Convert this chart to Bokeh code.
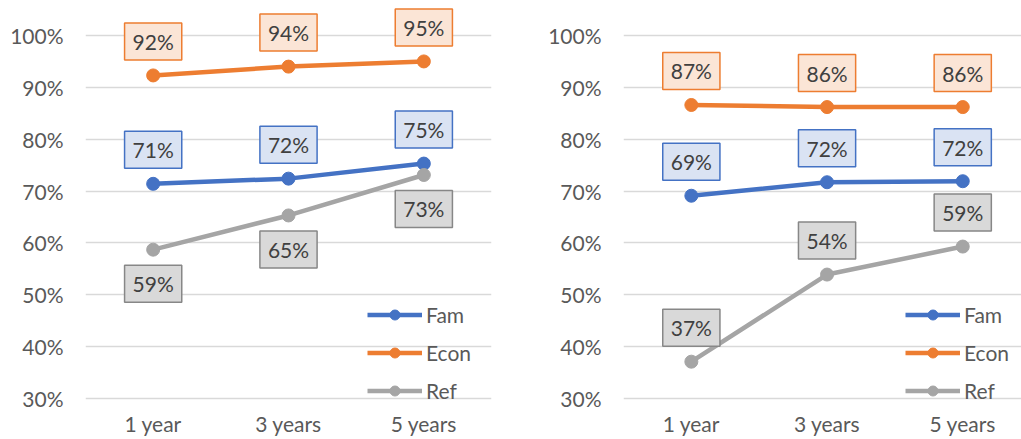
from bokeh.plotting import figure
from bokeh.layouts import row
from bokeh.models import Range1d, FixedTicker, Legend, LegendItem, ColumnDataSource
from bokeh.embed import file_html
from bokeh.resources import INLINE
from bokeh.core.properties import value

categories = ["1 year", "3 years", "5 years"]
series_names = ["Fam", "Econ", "Ref"]

left_fam = [71.4, 72.4, 75.3]
left_econ = [92.3, 94.0, 95.0]
left_ref = [58.7, 65.3, 73.1]

right_fam = [69.1, 71.7, 71.9]
right_econ = [86.6, 86.2, 86.2]
right_ref = [37.1, 53.9, 59.3]

y_ticks = [30, 40, 50, 60, 70, 80, 90, 100]

COLORS = {"Fam": "#4472C4", "Econ": "#ED7D31", "Ref": "#A5A5A5"}
FILLS = {"Fam": "#DAE3F3", "Econ": "#FBE5D6", "Ref": "#D9D9D9"}
BORDERS = {"Fam": "#4472C4", "Econ": "#ED7D31", "Ref": "#878787"}
FONT = "Lato"


def make_panel(data, label_offsets, width, border_left, border_right, x_end, legend_x):
    p = figure(width=width, height=439, output_backend="svg", toolbar_location=None,
               x_range=Range1d(-0.5, x_end), y_range=Range1d(27.686, 106.75),
               min_border_left=border_left, min_border_right=border_right,
               min_border_top=0, min_border_bottom=29)
    p.outline_line_color = None
    p.background_fill_color = "white"
    p.xgrid.grid_line_color = None
    p.ygrid.grid_line_color = "#D9D9D9"
    p.ygrid.grid_line_width = 1.5
    p.yaxis.ticker = FixedTicker(ticks=y_ticks)
    p.yaxis.major_label_overrides = {t: f"{t}%" for t in y_ticks}
    p.xaxis.ticker = FixedTicker(ticks=list(range(len(categories))))
    p.xaxis.major_label_overrides = {i: c for i, c in enumerate(categories)}
    for ax in (p.xaxis, p.yaxis):
        ax.axis_line_color = None
        ax.major_tick_line_color = None
        ax.minor_tick_line_color = None
        ax.major_tick_in = 0
        ax.major_tick_out = 0
        ax.minor_tick_in = 0
        ax.minor_tick_out = 0
        ax.major_label_text_font = FONT
        ax.major_label_text_font_size = "21px"
        ax.major_label_text_color = "#595959"
    p.yaxis.major_label_standoff = 22
    p.xaxis.major_label_standoff = 0

    items = []
    for name, vals in zip(series_names, data):
        src = ColumnDataSource(dict(x=list(range(len(categories))), y=vals,
                                    label=[f"{v:.0f}%" for v in vals]))
        ln = p.line("x", "y", source=src, line_color=COLORS[name], line_width=4.5)
        sc = p.scatter("x", "y", source=src, size=13, fill_color=COLORS[name],
                       line_color=COLORS[name])
        p.text("x", "y", text="label", source=src, text_align="center",
               text_baseline="middle", y_offset=label_offsets[name],
               text_font=value(FONT), text_font_size="21px", text_color="#404040",
               background_fill_color=FILLS[name], border_line_color=BORDERS[name],
               border_line_width=1.5,
               padding=dict(left=8, right=8, top=6, bottom=6))
        items.append(LegendItem(label=name, renderers=[ln, sc]))

    legend = Legend(items=items, location=(legend_x, 7), orientation="vertical",
                    glyph_width=55, glyph_height=25, label_height=25, spacing=13,
                    padding=0, margin=0, label_standoff=4,
                    border_line_color=None, background_fill_alpha=0,
                    label_text_font=FONT, label_text_font_size="21px",
                    label_text_color="#595959")
    p.add_layout(legend)
    return p


left = make_panel([left_fam, left_econ, left_ref],
                  {"Fam": -34, "Econ": -34, "Ref": 34},
                  width=510, border_left=85, border_right=19, x_end=2.5, legend_x=282)
right = make_panel([right_fam, right_econ, right_ref],
                   {"Fam": -34, "Econ": -34, "Ref": -34},
                   width=511, border_left=113, border_right=0, x_end=2.433, legend_x=282)

layout = row(left, right)
open("out.html", "w").write(file_html(layout, INLINE))
